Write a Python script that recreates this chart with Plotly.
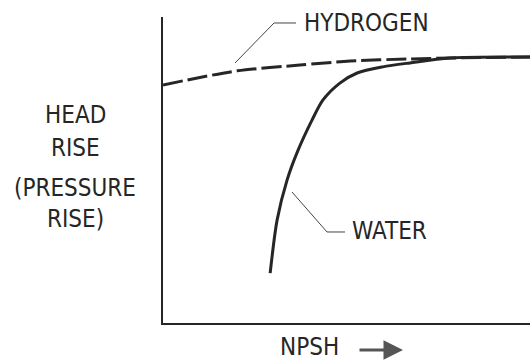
import plotly.graph_objects as go

# Head rise vs. NPSH (qualitative curves, arbitrary units 0-10)
hydrogen_npsh = [0.0, 2.02, 3.73, 5.10, 6.73, 7.82, 10.0]
hydrogen_head = [7.78, 8.24, 8.43, 8.56, 8.63, 8.66, 8.69]

water_npsh = [2.92, 3.11, 3.38, 3.65, 4.06, 4.36, 4.82, 5.29, 5.99, 6.73, 7.82, 10.0]
water_head = [1.63, 3.37, 4.67, 5.56, 6.63, 7.29, 7.84, 8.17, 8.37, 8.50, 8.66, 8.69]

y_label_lines = ["HEAD", "RISE", "(PRESSURE", "RISE)"]
x_label = "NPSH"

W, H = 530, 363
L, R, T, B = 163, 0, 17, 40
PW, PH = W - L - R, H - T - B

def px(x):
    return (x - L) / PW

def py(y):
    return (H - B - y) / PH

FONT = "Liberation Sans Narrow, DejaVu Sans Condensed, Arial Narrow, sans-serif"
INK = "#262626"

fig = go.Figure()
fig.add_trace(go.Scatter(
    x=water_npsh, y=water_head, mode="lines",
    line=dict(color=INK, width=3, shape="spline", smoothing=0.8),
    hoverinfo="skip", showlegend=False))
fig.add_trace(go.Scatter(
    x=hydrogen_npsh, y=hydrogen_head, mode="lines",
    line=dict(color=INK, width=3, dash="20px,5px", shape="spline", smoothing=0.8),
    hoverinfo="skip", showlegend=False))

def leader(points):
    d = "M " + " L ".join(f"{px(a):.4f} {py(b):.4f}" for a, b in points)
    return dict(type="path", xref="paper", yref="paper", path=d,
                line=dict(color="#444", width=1))

shapes = [
    leader([(235, 63), (274, 23), (296, 23)]),
    leader([(292, 192), (327, 232), (345, 232)]),
]

txt = dict(family=FONT, size=24, color=INK)
annotations = [
    dict(text="HYDROGEN", x=px(302), y=py(23), xanchor="left", yanchor="middle"),
    dict(text="WATER", x=px(350), y=py(231), xanchor="left", yanchor="middle"),
    dict(text=x_label, x=px(278), y=py(347), xanchor="left", yanchor="middle"),
]
for line_text, ypos in zip(y_label_lines, [115, 147.5, 187.5, 219]):
    annotations.append(dict(text=line_text, x=px(75), y=py(ypos),
                            xanchor="center", yanchor="middle"))
for a in annotations:
    a.update(xref="paper", yref="paper", showarrow=False, font=txt)

# arrow pointing along increasing NPSH
annotations.append(dict(
    text="", x=px(403), y=py(350), xref="paper", yref="paper",
    ax=-45, ay=0, showarrow=True, arrowhead=2, arrowsize=1.3,
    arrowwidth=3, arrowcolor="#555"))

fig.update_layout(
    width=W, height=H,
    margin=dict(l=L, r=R, t=T, b=B, pad=0),
    paper_bgcolor="white", plot_bgcolor="white",
    shapes=shapes, annotations=annotations,
    xaxis=dict(range=[0, 10], showline=True, linecolor=INK, linewidth=2,
               showgrid=False, zeroline=False, showticklabels=False, ticks=""),
    yaxis=dict(range=[0, 10], showline=True, linecolor=INK, linewidth=2,
               showgrid=False, zeroline=False, showticklabels=False, ticks=""),
)

fig.write_html("out.html")
